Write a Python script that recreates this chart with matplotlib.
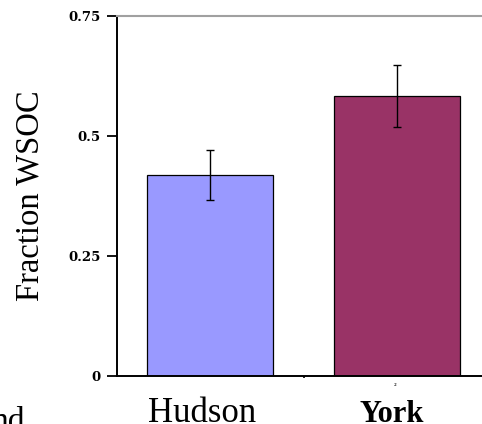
import matplotlib
matplotlib.use("Agg")
import matplotlib.pyplot as plt

# data
sites = ['Hudson', 'York']
fraction = [0.419, 0.583]
err = [0.052, 0.065]
bar_colors = ['#9999FF', '#993366']
yticks = [0, 0.25, 0.5, 0.75]
ytick_labels = ['0', '0.25', '0.5', '0.75']

fig = plt.figure(figsize=(4.82, 4.24), dpi=100)
# axes run past the right edge of the figure, as in the original
ax = fig.add_axes([116.5 / 482, 48 / 424, 374 / 482, 360 / 424])

x = list(range(len(sites)))
ax.bar(x, fraction, width=0.67, color=bar_colors, edgecolor='black', linewidth=0.9, zorder=2)
ax.errorbar(x, fraction, yerr=err, fmt='none', ecolor='black', elinewidth=1,
            capsize=3, capthick=1, zorder=3)

ax.set_xlim(-0.5, 1.5)
ax.set_ylim(0, 0.75)

ax.spines['left'].set_linewidth(1.4)
ax.spines['bottom'].set_linewidth(1.4)
ax.spines['top'].set_color('#a0a0a0')
ax.spines['top'].set_linewidth(1.5)
ax.spines['right'].set_visible(False)

ax.set_yticks(yticks)
ax.set_yticklabels(ytick_labels, family='DejaVu Serif', fontweight='bold', fontsize=9.5)
ax.tick_params(axis='y', length=7, width=1.3, pad=4.5)

# only a small tick between categories on the x axis
ax.set_xticks([0.5])
ax.set_xticklabels([''])
ax.tick_params(axis='x', length=1.5, width=1.2)

ax.set_ylabel('Fraction WSOC', family='Liberation Serif', fontsize=23.5)
ax.yaxis.set_label_coords(-0.19, 0.5)

# category names
xt = ax.get_xaxis_transform()
ax.text(x[0] - 0.04, -0.128, sites[0], transform=xt, ha='center', va='baseline',
        family='Liberation Serif', fontsize=25)
ax.text(x[1] - 0.03, -0.128, sites[1], transform=xt, ha='center', va='baseline',
        family='Liberation Serif', fontweight='bold', fontsize=22)

# stray bits visible in the cut-out
ax.text(x[1] - 0.01, -0.03, '²', transform=xt, ha='center', va='center',
        family='DejaVu Sans', fontsize=5)
fig.text(-9 / 482, -6 / 424, 'nd', family='Liberation Serif', fontsize=24, va='baseline')

fig.savefig('out.png', dpi=100)
